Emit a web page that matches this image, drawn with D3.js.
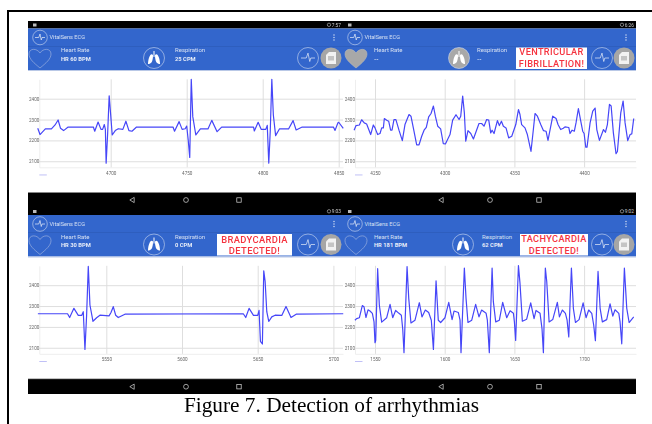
<!DOCTYPE html>
<html>
<head>
<meta charset="utf-8">
<script src="https://cdnjs.cloudflare.com/ajax/libs/d3/7.8.5/d3.min.js"></script>
<style>
html, body { margin: 0; padding: 0; background: #fff; }
svg { display: block; }
.soft { filter: blur(0.45px); }
</style>
</head>
<body>
<div id="chart"></div>
<script>
// values, [sample, adc value]
var normalTrace = [[4652,2258],[4653.5,2228],[4657,2255],[4661,2255],[4663.4,2274],[4665.4,2298],[4667,2258],[4669,2247],[4672,2264],[4688.6,2264],[4689.5,2244],[4691.7,2288],[4693.6,2253],[4694.7,2253],[4695.8,2276],[4696.5,2253],[4697,2091],[4698,2234],[4699,2414],[4700,2322],[4701,2226],[4703,2247],[4705,2256],[4708,2253],[4710,2292],[4712,2247],[4714,2244],[4717,2264],[4741,2264],[4742,2244],[4745,2290],[4747,2253],[4749,2256],[4750,2269],[4751,2202],[4752,2118],[4753,2493],[4754,2314],[4756,2226],[4759,2255],[4764,2255],[4766.5,2296],[4770,2242],[4773,2264],[4794,2264],[4794.5,2245],[4797,2287],[4799,2253],[4802,2253],[4803,2272],[4804,2091],[4805,2250],[4806,2493],[4807,2322],[4808.5,2223],[4811,2255],[4817,2255],[4820,2295],[4822,2250],[4826,2264],[4846.5,2264],[4847.6,2248],[4849.5,2285],[4850,2287],[4853,2258]];
var vfTrace = [[4235,2249],[4236.4,2271],[4238.8,2274],[4240.4,2299],[4242.3,2284],[4244,2279],[4246.9,2228],[4248.8,2274],[4250,2260],[4251.9,2228],[4253.6,2233],[4254.8,2260],[4256,2260],[4256.7,2305],[4258.4,2297],[4259.8,2292],[4261.2,2249],[4262.2,2249],[4263.6,2300],[4265,2300],[4267.2,2249],[4269.6,2199],[4271.5,2276],[4274.4,2324],[4275.8,2316],[4277.5,2260],[4279.9,2179],[4281.6,2179],[4283.5,2220],[4285.2,2249],[4286.8,2263],[4288.5,2313],[4290.2,2329],[4291.9,2365],[4293.3,2316],[4295,2268],[4297.1,2255],[4299,2184],[4300.5,2183],[4303.8,2228],[4305.7,2297],[4308.1,2323],[4310.3,2300],[4311.5,2316],[4312.9,2413],[4314.1,2332],[4315.1,2196],[4316.7,2247],[4318.7,2233],[4320.6,2207],[4324.6,2281],[4326.5,2281],[4328.2,2268],[4330.1,2300],[4331.6,2297],[4333,2236],[4334,2249],[4335.4,2233],[4337.8,2295],[4339.2,2271],[4340.7,2292],[4342.1,2268],[4344,2260],[4345.9,2212],[4348.1,2220],[4351,2276],[4352.9,2348],[4354,2324],[4355.2,2276],[4357.6,2260],[4359.3,2228],[4361.9,2147],[4363.6,2252],[4364.8,2329],[4366.5,2316],[4368.9,2276],[4370.8,2247],[4372.7,2244],[4374.1,2200],[4377.5,2316],[4379.9,2305],[4381.3,2276],[4383.2,2252],[4385.1,2258],[4386.3,2265],[4389,2262],[4389.9,2233],[4391.4,2249],[4393,2244],[4394.2,2284],[4395.9,2353],[4397.6,2292],[4399,2244],[4400,2233],[4401.2,2168],[4402.1,2168],[4404.3,2284],[4406.2,2340],[4407.9,2355],[4409.1,2252],[4411,2200],[4413.9,2252],[4415.3,2239],[4416.7,2276],[4418.2,2373],[4419.4,2365],[4421,2236],[4422.9,2136],[4423.9,2147],[4426.3,2332],[4428,2389],[4429.4,2284],[4431.3,2199],[4433,2228],[4434.2,2231],[4435.6,2305]];
var bradyTrace = [[5504.8,2263],[5524.4,2263],[5525.8,2245],[5528.6,2289],[5531.5,2255],[5533.7,2255],[5534.8,2273],[5535.9,2092],[5537,2256],[5538.1,2490],[5539.2,2305],[5541.2,2227],[5543.6,2244],[5545.8,2256],[5551.8,2253],[5553.1,2269],[5554.6,2297],[5556.2,2256],[5557.9,2245],[5562.3,2261],[5640.5,2263],[5642.1,2245],[5644.3,2289],[5647.2,2255],[5650,2255],[5650.9,2279],[5651.8,2131],[5653.1,2118],[5654,2469],[5654.9,2418],[5656,2273],[5657.3,2226],[5659.3,2248],[5661.5,2256],[5665.9,2255],[5668.7,2298],[5672,2245],[5675.4,2261],[5706.5,2263]];
var tachyTrace = [[1535.6,2232],[1536.8,2240],[1538.8,2244],[1540.9,2302],[1542.1,2297],[1543.5,2245],[1545,2282],[1546.4,2276],[1548.1,2265],[1549.3,2224],[1550,2124],[1550.5,2135],[1551.9,2479],[1553.1,2305],[1554.8,2223],[1558.4,2244],[1560.8,2308],[1562.7,2244],[1564.8,2279],[1567.2,2265],[1568.9,2256],[1569.9,2189],[1570.8,2076],[1573,2489],[1574.2,2337],[1575.8,2219],[1578.7,2232],[1581.8,2316],[1583.7,2248],[1586.1,2281],[1588.5,2269],[1590.4,2232],[1591.9,2092],[1593.8,2421],[1595.4,2232],[1597.1,2221],[1600.2,2244],[1602.9,2318],[1605.3,2235],[1606.7,2276],[1609.8,2269],[1611,2232],[1611.7,2076],[1614.1,2482],[1615.3,2337],[1616.7,2221],[1619.4,2232],[1622.2,2308],[1624.6,2248],[1626.5,2281],[1629.7,2265],[1630.6,2232],[1632,2076],[1634,2482],[1634.9,2321],[1636.6,2224],[1639.2,2232],[1641.6,2318],[1644.5,2244],[1646.9,2277],[1649.3,2265],[1650,2224],[1650.9,2135],[1652.9,2494],[1654,2410],[1655.7,2227],[1658.8,2237],[1661.7,2315],[1664.1,2240],[1665.5,2279],[1668.4,2265],[1669.8,2192],[1670.8,2076],[1672.2,2482],[1673.2,2418],[1674.9,2224],[1677.5,2235],[1680.8,2318],[1682.3,2248],[1684.4,2281],[1686.6,2265],[1687.8,2232],[1689,2152],[1690.9,2482],[1692.3,2289],[1693.8,2221],[1696.4,2235],[1699.3,2315],[1701.4,2244],[1703.3,2281],[1705.5,2265],[1706.9,2208],[1708.1,2134],[1710,2466],[1711.5,2289],[1713.1,2224],[1716.2,2235],[1718.6,2311],[1720.6,2252],[1722.2,2282],[1724.9,2265],[1725.8,2224],[1727,2119],[1728.9,2482],[1730.6,2289],[1732.3,2221],[1735.6,2248]];

var yTicks = [2100, 2200, 2300, 2400];
var normalTicks = [4700, 4750, 4800, 4850];
var vfTicks = [4250, 4300, 4350, 4400];
var bradyTicks = [5550, 5600, 5650, 5700];
var tachyTicks = [1550, 1600, 1650, 1700];

var heartText = ["HR  60 BPM", "--", "HR  30 BPM", "HR  181 BPM"];
var respText = ["25 CPM", "--", "0 CPM", "62 CPM"];
var clockText = ["7:57", "6:26", "9:03", "9:02"];
var alertText = [null, ["VENTRICULAR", "FIBRILLATION!"], ["BRADYCARDIA", "DETECTED!"], ["TACHYCARDIA", "DETECTED!"]];

var BLUE = "#3366cc", LINE = "#4646f8", GRID = "#dedede", SANS = "Roboto, 'Noto Sans', sans-serif";

var svg = d3.select("#chart").append("svg").attr("width", 652).attr("height", 424)
    .attr("font-family", SANS);

// figure border, only top and left show in the crop
svg.append("path").attr("d", "M652,11H8V424").attr("fill", "none").attr("stroke", "#000").attr("stroke-width", 2);

var panels = [
    {left: 28, right: 343, top: 21, axisLeft: 39.3, tick0: 110.7, tickStep: 76, x0: 4700, trace: normalTrace, ticks: normalTicks, heartX: 40, lungX: 154, respX: 175, heartTextX: 61, appX: 40, alert: null, grey: false, navX: [132, 186, 239], alertFont: 0, alertY: 0},
    {left: 343, right: 636, top: 21, axisLeft: 355, tick0: 375, tickStep: 69.7, x0: 4250, trace: vfTrace, ticks: vfTicks, heartX: 356, lungX: 459, respX: 477, heartTextX: 374, appX: 355, alert: [516, 587], grey: true, navX: [441, 490, 539], alertFont: 9.2, alertY: 34.3},
    {left: 28, right: 343, top: 207.5, axisLeft: 39.3, tick0: 106.3, tickStep: 75.7, x0: 5550, trace: bradyTrace, ticks: bradyTicks, heartX: 40, lungX: 154, respX: 175, heartTextX: 61, appX: 40, alert: [217, 292], grey: false, navX: [132, 186, 239], alertFont: 9.4, alertY: 35.5},
    {left: 343, right: 636, top: 207.5, axisLeft: 355, tick0: 375, tickStep: 69.7, x0: 1550, trace: tachyTrace, ticks: tachyTicks, heartX: 356, lungX: 463, respX: 482, heartTextX: 374, appX: 355, alert: [520, 588], grey: false, navX: [441, 490, 539], alertFont: 9.2, alertY: 34.8}
];

panels.forEach(function(p, i){
    var g = svg.append("g").attr("class", "soft");
    var w = p.right - p.left;
    var t = p.top;
    var btnX = i % 2 ? [602, 624] : [308, 331];

    // status bar, app bar and plot background
    g.append("rect").attr("x", p.left).attr("y", i < 2 ? t : t - 2.5).attr("width", w).attr("height", i < 2 ? 7.5 : 10).attr("fill", "#000");
    g.append("rect").attr("x", p.left).attr("y", t + 7.5).attr("width", w).attr("height", 41.5).attr("fill", BLUE);
    g.append("rect").attr("x", p.left).attr("y", t + 25).attr("width", w).attr("height", 0.5).attr("fill", "#2a57b0");
    g.append("rect").attr("x", p.left).attr("y", t + 49).attr("width", w).attr("height", 1).attr("fill", "#b9c8e6");
    g.append("rect").attr("x", p.left).attr("y", t + 171.5).attr("width", w).attr("height", i < 2 ? 12.5 : 15).attr("fill", "#000");
    g.append("rect").attr("x", p.left).attr("y", t + 171).attr("width", w).attr("height", 0.7).attr("fill", "#888");

    // status bar bits
    g.append("rect").attr("x", p.left + 5).attr("y", t + 2.5).attr("width", 3.5).attr("height", 3).attr("fill", "#bbb");
    g.append("circle").attr("cx", btnX[1] - 2).attr("cy", t + 3.8).attr("r", 1.7).attr("fill", "none").attr("stroke", "#ccc").attr("stroke-width", 0.6);
    g.append("text").attr("x", btnX[1] + 10).attr("y", t + 5.6).attr("text-anchor", "end").attr("font-size", 4.8).attr("fill", "#ccc").text(clockText[i]);

    // app bar title row
    g.append("circle").attr("cx", p.appX).attr("cy", t + 16.5).attr("r", 7.3).attr("fill", "none").attr("stroke", "#cfdaf0").attr("stroke-width", 0.6);
    pulse(g, p.appX, t + 16.5, 5);
    g.append("text").attr("x", p.appX + 9.5).attr("y", t + 18.3).attr("font-size", 5.6).attr("fill", "#d6e0f3").text("VitalSens ECG");
    [-2.5, 0, 2.5].forEach(function(d){
        g.append("circle").attr("cx", i % 2 ? 626 : 334).attr("cy", t + 16.5 + d).attr("r", 0.7).attr("fill", "#dfe6f5");
    });

    // vitals row
    var rowY = t + 37;
    heart(g, p.heartX, rowY, p.grey);
    g.append("text").attr("x", p.heartTextX).attr("y", t + 31).attr("font-size", 6).attr("fill", "#d6e0f3").text("Heart Rate");
    g.append("text").attr("x", p.heartTextX).attr("y", t + 39.5).attr("font-size", 5.8).attr("font-weight", 700).attr("fill", "#e6ecf8").text(heartText[i]);
    lungs(g, p.lungX, rowY, p.grey);
    g.append("text").attr("x", p.respX).attr("y", t + 31).attr("font-size", 6).attr("fill", "#d6e0f3").text("Respiration");
    g.append("text").attr("x", p.respX).attr("y", t + 39.5).attr("font-size", 5.8).attr("font-weight", 700).attr("fill", "#e6ecf8").text(respText[i]);

    g.append("circle").attr("cx", btnX[0]).attr("cy", rowY).attr("r", 10.5).attr("fill", "none").attr("stroke", "#cfdaf0").attr("stroke-width", 0.6);
    pulse(g, btnX[0], rowY, 7);
    g.append("circle").attr("cx", btnX[1]).attr("cy", rowY).attr("r", 10.5).attr("fill", "#a6a6a6");
    g.append("path").attr("d", "M" + (btnX[1] - 2) + "," + (rowY - 6) + "H" + (btnX[1] + 5) + "V" + (rowY + 6) + "H" + (btnX[1] - 5) + "V" + (rowY - 3) + "Z").attr("fill", "#f2f2f2");
    g.append("rect").attr("x", btnX[1] - 3).attr("y", rowY - 2).attr("width", 6).attr("height", 4.5).attr("fill", "#c4c4c4");

    // alert box
    if (p.alert){
        g.append("rect").attr("x", p.alert[0]).attr("y", t + 26.5).attr("width", p.alert[1] - p.alert[0]).attr("height", 21.5).attr("fill", "#fff");
        alertText[i].forEach(function(s, k){
            g.append("text").attr("x", (p.alert[0] + p.alert[1]) / 2).attr("y", t + p.alertY + k * 11.2)
                .attr("text-anchor", "middle").attr("font-size", p.alertFont).attr("font-weight", 500).attr("letter-spacing", 0.35).attr("fill", "#f5333f").text(s);
        });
    }

    // nav icons
    var navY = t + (i < 2 ? 179 : 179.2);
    g.append("path").attr("d", "M" + (p.navX[0] + 2.2) + "," + (navY - 2.6) + "L" + (p.navX[0] - 2.2) + "," + navY + "L" + (p.navX[0] + 2.2) + "," + (navY + 2.6) + "Z").attr("fill", "none").attr("stroke", "#ddd").attr("stroke-width", 0.7);
    g.append("circle").attr("cx", p.navX[1]).attr("cy", navY).attr("r", 2.4).attr("fill", "none").attr("stroke", "#ddd").attr("stroke-width", 0.7);
    g.append("rect").attr("x", p.navX[2] - 2.2).attr("y", navY - 2.2).attr("width", 4.4).attr("height", 4.4).attr("fill", "none").attr("stroke", "#ddd").attr("stroke-width", 0.7);

    // scales
    var pxPerUnit = p.tickStep / 50;
    var x = d3.scaleLinear()
        .domain([p.x0 + (p.axisLeft - p.tick0) / pxPerUnit, p.x0 + (p.right - p.tick0) / pxPerUnit])
        .range([p.axisLeft, p.right]);
    var y = d3.scaleLinear()
        .domain([2071, 2493])
        .range([t + 146.3, t + 58.3]);

    // x axis + vertical grid
    var xAxis = g.append("g").attr("transform", "translate(0," + (t + 146.3) + ")")
        .call(d3.axisBottom(x).tickValues(p.ticks).tickFormat(d3.format("d")).tickSizeInner(-88).tickSizeOuter(0).tickPadding(4));
    xAxis.select(".domain").attr("stroke", "#eee");
    xAxis.selectAll("line").attr("stroke", GRID).attr("stroke-width", 1);
    xAxis.selectAll("text").attr("font-size", 4.6).attr("fill", "#666").attr("font-family", SANS);

    // y axis + horizontal grid
    var yAxis = g.append("g").attr("transform", "translate(" + p.axisLeft + ",0)")
        .call(d3.axisLeft(y).tickValues(yTicks).tickFormat(d3.format("d")).tickSizeInner(-(p.right - p.axisLeft)).tickSizeOuter(0).tickPadding(0));
    yAxis.select(".domain").attr("stroke", "#eee");
    yAxis.selectAll("line").attr("stroke", GRID).attr("stroke-width", 1);
    yAxis.selectAll("text").attr("font-size", 4.6).attr("fill", "#666").attr("font-family", SANS);

    // legend dash
    g.append("rect").attr("x", p.axisLeft).attr("y", t + 153.5).attr("width", 7.5).attr("height", 0.9).attr("fill", "#b9b9f5");

    // trace
    var line = d3.line().x(function(d){ return x(d[0]) }).y(function(d){ return y(d[1]) });
    g.append("path").datum(p.trace)
        .attr("d", line).attr("fill", "none").attr("stroke", LINE).attr("stroke-width", 1.2).attr("stroke-linejoin", "round");
});

svg.append("text").attr("x", 331.5).attr("y", 412).attr("text-anchor", "middle")
    .attr("font-family", "'Liberation Serif'").attr("font-size", 21.3).attr("fill", "#000")
    .text("Figure 7. Detection of arrhythmias");

function pulse(g, cx, cy, s){
    g.append("path").attr("d", "M" + (cx - s) + "," + cy + "H" + (cx - s * 0.25) + "L" + cx + "," + (cy - s * 0.7) + "L" + (cx + s * 0.25) + "," + (cy + s * 0.5) + "L" + (cx + s * 0.4) + "," + cy + "H" + (cx + s))
        .attr("fill", "none").attr("stroke", "#e6ecf8").attr("stroke-width", 0.7);
}

function heart(g, cx, cy, grey){
    g.append("path").attr("d", "M" + cx + "," + (cy + 10) + "C" + (cx - 6) + "," + (cy + 5) + " " + (cx - 11) + "," + (cy + 1) + " " + (cx - 11) + "," + (cy - 4)
        + "C" + (cx - 11) + "," + (cy - 10) + " " + (cx - 3) + "," + (cy - 10) + " " + cx + "," + (cy - 5)
        + "C" + (cx + 3) + "," + (cy - 10) + " " + (cx + 11) + "," + (cy - 10) + " " + (cx + 11) + "," + (cy - 4)
        + "C" + (cx + 11) + "," + (cy + 1) + " " + (cx + 6) + "," + (cy + 5) + " " + cx + "," + (cy + 10) + "Z")
        .attr("fill", grey ? "#a8a8a8" : "none").attr("stroke", grey ? "#b8b8b8" : "#aabbe0").attr("stroke-width", 0.6);
}

function lungs(g, cx, cy, grey){
    g.append("circle").attr("cx", cx).attr("cy", cy).attr("r", 10.5).attr("fill", grey ? "#a8a8a8" : "none").attr("stroke", "#cfdaf0").attr("stroke-width", 0.6);
    [-1, 1].forEach(function(d){
        g.append("path").attr("d", "M" + (cx + d * 1) + "," + (cy - 3) + "C" + (cx + d * 4) + "," + (cy - 6) + " " + (cx + d * 6) + "," + (cy + 2) + " " + (cx + d * 6) + "," + (cy + 6) + "C" + (cx + d * 3) + "," + (cy + 6) + " " + (cx + d * 1) + "," + (cy + 4) + " " + (cx + d * 1) + "," + (cy - 3) + "Z").attr("fill", "#fff");
    });
    g.append("rect").attr("x", cx - 0.5).attr("y", cy - 7).attr("width", 1).attr("height", 6).attr("fill", "#fff");
}
</script>
</body>
</html>
